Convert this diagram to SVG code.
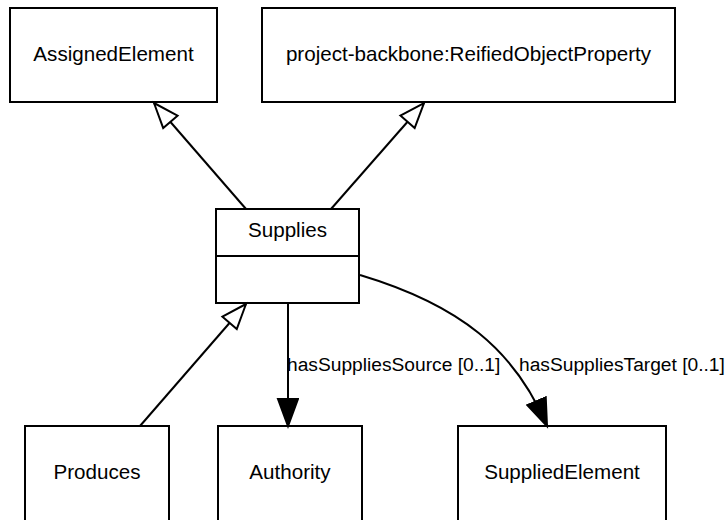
<svg xmlns="http://www.w3.org/2000/svg" width="728" height="520" viewBox="0 0 728 520">
<defs>
<style>
.box{fill:#fff;stroke:#000;stroke-width:2}
.lbl{font-family:"Liberation Sans",Arial,sans-serif;font-size:20.6px;fill:#000;text-anchor:middle}
.elbl{font-family:"Liberation Sans",Arial,sans-serif;font-size:19.2px;fill:#000}
.edge{fill:none;stroke:#000;stroke-width:2}
</style>
<marker id="gen" markerUnits="userSpaceOnUse" markerWidth="30" markerHeight="26" viewBox="-2 -2 30 26" refX="25" refY="10" orient="auto">
<path d="M0,0.5 L25,10 L0,19.5 Z" fill="#fff" stroke="#000" stroke-width="2"/>
</marker>
<marker id="arr" markerUnits="userSpaceOnUse" markerWidth="32" markerHeight="24" viewBox="0 0 32 24" refX="28" refY="11" orient="auto">
<path d="M1,1 L28,11 L1,21 Z" fill="#000" stroke="#000" stroke-width="2"/>
</marker>
</defs>
<rect width="728" height="520" fill="#fff"/>
<g id="AssignedElement">
<rect class="box" x="10" y="8" width="207" height="94"/>
<text class="lbl" x="113.5" y="61">AssignedElement</text>
</g>
<g id="ReifiedObjectProperty">
<rect class="box" x="262" y="8" width="413" height="94"/>
<text class="lbl" x="468.5" y="61">project-backbone:ReifiedObjectProperty</text>
</g>
<g id="Supplies">
<rect class="box" x="216" y="209" width="143" height="94"/>
<line x1="216" y1="256" x2="359" y2="256" stroke="#000" stroke-width="2"/>
<text class="lbl" x="287.5" y="237">Supplies</text>
</g>
<g id="Produces">
<rect class="box" x="25" y="426" width="144" height="100"/>
<text class="lbl" x="97" y="479">Produces</text>
</g>
<g id="Authority">
<rect class="box" x="218" y="426" width="144" height="100"/>
<text class="lbl" x="290" y="479">Authority</text>
</g>
<g id="SuppliedElement">
<rect class="box" x="458" y="426" width="208" height="100"/>
<text class="lbl" x="562" y="479">SuppliedElement</text>
</g>
<g id="connectors">
<line class="edge" x1="246" y1="209" x2="154" y2="103" marker-end="url(#gen)"/>
<line class="edge" x1="331" y1="209" x2="424" y2="103" marker-end="url(#gen)"/>
<line class="edge" x1="140" y1="426" x2="246" y2="304" marker-end="url(#gen)"/>
<line class="edge" x1="288" y1="303" x2="288" y2="426" marker-end="url(#arr)"/>
<path class="edge" d="M360,275 C460,305 515,350 547,426" marker-end="url(#arr)"/>
<text class="elbl" x="287" y="371">hasSuppliesSource [0..1]</text>
<text class="elbl" x="519" y="371">hasSuppliesTarget [0..1]</text>
</g>
</svg>
